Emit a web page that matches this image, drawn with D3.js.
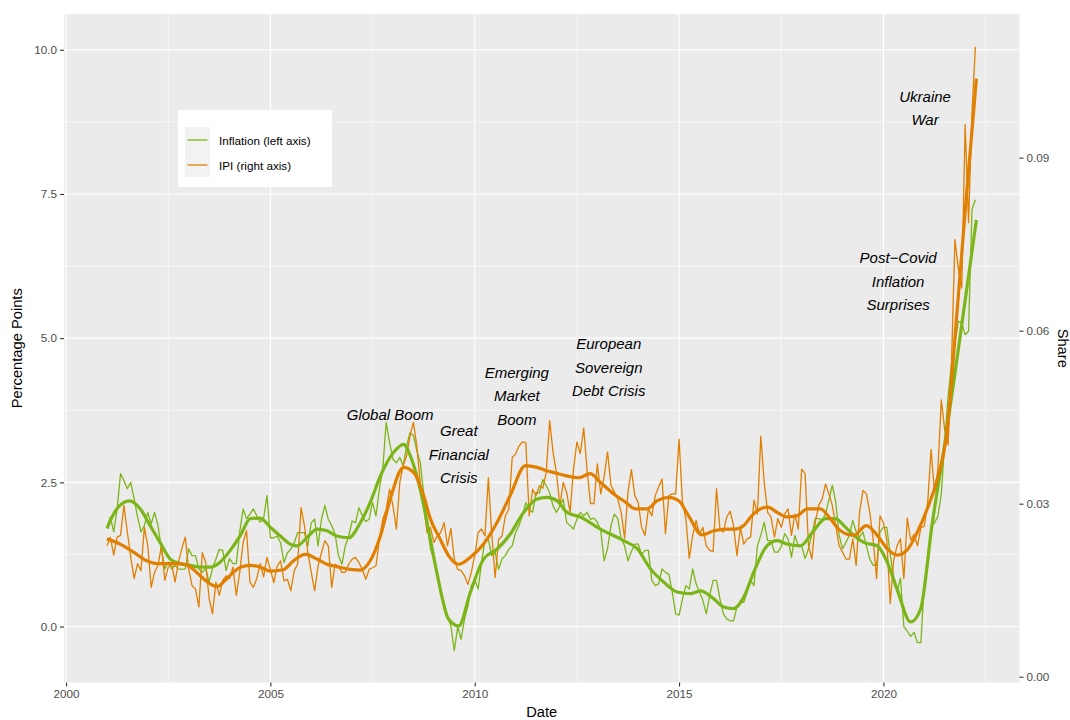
<!DOCTYPE html>
<html>
<head>
<meta charset="utf-8">
<script src="https://cdn.jsdelivr.net/npm/d3@7"></script>
<style>
    body { margin: 0; background: #ffffff; }
    #dashboardChart text { font-family: "Liberation Sans", Arial, Helvetica, sans-serif; }
</style>
</head>
<body>
<div id="dashboardChart"></div>
<script>
// monthly series, first observation January 2001
const startYear = 2001;

// inflation, percentage points (left axis)
const inflation = [
    1.72, 1.90, 1.64, 2.04, 2.65, 2.53, 2.39, 2.50, 2.21, 1.90,
    1.64, 1.75, 1.98, 1.78, 1.98, 1.75, 1.35, 1.00, 1.12, 1.00,
    1.06, 1.00, 0.99, 1.00, 1.35, 1.23, 1.23, 1.00, 0.94, 1.00,
    0.77, 1.00, 1.17, 1.34, 1.32, 0.97, 1.18, 1.09, 1.09, 1.64,
    2.04, 1.87, 1.95, 2.04, 1.92, 1.81, 1.87, 2.27, 1.54, 1.54,
    1.57, 1.45, 1.11, 1.28, 1.34, 1.45, 1.63, 1.63, 1.63, 1.40,
    1.80, 1.86, 1.40, 1.86, 2.10, 1.86, 1.75, 1.60, 1.23, 1.08,
    1.40, 1.57, 1.83, 1.80, 2.06, 1.92, 1.82, 1.86, 2.15, 1.92,
    2.38, 2.73, 3.54, 3.19, 2.90, 2.84, 2.93, 2.79, 3.13, 3.36,
    3.31, 3.05, 2.85, 2.31, 1.80, 1.35, 1.17, 0.94, 0.59, 0.42,
    0.18, 0.01, -0.42, 0.00, -0.22, 0.13, 0.36, 0.71, 0.82, 0.65,
    1.11, 1.51, 1.51, 1.23, 1.28, 0.99, 1.17, 1.23, 1.34, 1.40,
    1.63, 1.75, 1.92, 2.15, 2.03, 1.98, 2.32, 2.32, 2.55, 2.44,
    2.32, 2.09, 1.98, 2.09, 2.21, 1.80, 1.75, 1.69, 1.86, 1.98,
    1.92, 1.98, 1.86, 1.88, 1.81, 1.66, 1.14, 1.35, 1.75, 1.95,
    1.87, 1.52, 1.40, 1.14, 1.30, 1.43, 1.43, 1.25, 1.32, 1.32,
    0.80, 0.71, 0.74, 1.00, 0.94, 0.91, 0.60, 0.22, 0.20, 0.48,
    0.71, 0.65, 1.00, 0.74, 0.60, 0.45, 0.22, 0.54, 0.80, 0.80,
    0.48, 0.22, 0.13, 0.10, 0.10, 0.34, 0.42, 0.42, 0.60, 0.80,
    0.71, 1.40, 1.58, 1.81, 1.49, 1.49, 1.29, 1.29, 1.38, 1.61,
    1.52, 1.20, 1.58, 1.40, 1.40, 1.18, 1.35, 1.60, 1.88, 1.87,
    1.85, 1.95, 2.20, 2.45, 2.16, 1.58, 1.35, 1.46, 1.58, 1.84,
    1.64, 1.55, 1.64, 1.40, 1.17, 1.06, 1.06, 1.64, 1.72, 1.72,
    1.25, 0.85, 0.60, 0.84, 0.00, -0.08, -0.17, -0.10, -0.28, -0.28,
    0.76, 1.20, 1.74, 1.80, 1.91, 2.30, 3.20, 3.99, 4.57, 4.90,
    5.29, 5.27, 5.06, 5.12, 7.23, 7.40
];

// IPI, share (right axis)
const ipiShare = [
    0.0227, 0.0242, 0.0211, 0.0242, 0.0245, 0.0297, 0.0251, 0.0207, 0.0170, 0.0196,
    0.0184, 0.0259, 0.0227, 0.0155, 0.0181, 0.0193, 0.0227, 0.0167, 0.0190, 0.0196,
    0.0164, 0.0199, 0.0222, 0.0242, 0.0187, 0.0158, 0.0152, 0.0121, 0.0215, 0.0199,
    0.0136, 0.0109, 0.0164, 0.0141, 0.0167, 0.0175, 0.0170, 0.0190, 0.0141, 0.0181,
    0.0233, 0.0253, 0.0164, 0.0155, 0.0170, 0.0196, 0.0173, 0.0207, 0.0186, 0.0163,
    0.0192, 0.0201, 0.0166, 0.0169, 0.0149, 0.0184, 0.0195, 0.0293, 0.0262, 0.0215,
    0.0181, 0.0149, 0.0192, 0.0215, 0.0236, 0.0227, 0.0155, 0.0195, 0.0192, 0.0181,
    0.0181, 0.0195, 0.0204, 0.0207, 0.0198, 0.0186, 0.0169, 0.0186, 0.0189, 0.0192,
    0.0238, 0.0273, 0.0290, 0.0325, 0.0296, 0.0256, 0.0337, 0.0366, 0.0383, 0.0418,
    0.0441, 0.0400, 0.0337, 0.0296, 0.0250, 0.0259, 0.0233, 0.0244, 0.0250, 0.0267,
    0.0227, 0.0257, 0.0204, 0.0186, 0.0184, 0.0175, 0.0160, 0.0181, 0.0210, 0.0250,
    0.0256, 0.0244, 0.0345, 0.0247, 0.0172, 0.0238, 0.0244, 0.0279, 0.0290, 0.0380,
    0.0386, 0.0400, 0.0407, 0.0406, 0.0279, 0.0325, 0.0314, 0.0331, 0.0327, 0.0354,
    0.0444, 0.0389, 0.0354, 0.0296, 0.0337, 0.0319, 0.0285, 0.0360, 0.0407, 0.0387,
    0.0431, 0.0357, 0.0300, 0.0300, 0.0369, 0.0317, 0.0347, 0.0390, 0.0332, 0.0320,
    0.0308, 0.0285, 0.0240, 0.0320, 0.0359, 0.0314, 0.0302, 0.0259, 0.0245, 0.0291,
    0.0279, 0.0314, 0.0329, 0.0343, 0.0248, 0.0314, 0.0317, 0.0317, 0.0412, 0.0302,
    0.0274, 0.0205, 0.0245, 0.0271, 0.0247, 0.0259, 0.0227, 0.0219, 0.0217, 0.0326,
    0.0256, 0.0251, 0.0277, 0.0287, 0.0262, 0.0210, 0.0259, 0.0230, 0.0239, 0.0242,
    0.0306, 0.0282, 0.0417, 0.0337, 0.0285, 0.0277, 0.0242, 0.0274, 0.0259, 0.0282,
    0.0291, 0.0245, 0.0282, 0.0256, 0.0360, 0.0352, 0.0227, 0.0204, 0.0268, 0.0297,
    0.0308, 0.0334, 0.0317, 0.0297, 0.0262, 0.0227, 0.0216, 0.0204, 0.0204, 0.0239,
    0.0193, 0.0285, 0.0323, 0.0317, 0.0285, 0.0237, 0.0170, 0.0279, 0.0267, 0.0237,
    0.0127, 0.0202, 0.0227, 0.0239, 0.0170, 0.0275, 0.0237, 0.0247, 0.0227, 0.0258,
    0.0261, 0.0302, 0.0394, 0.0319, 0.0359, 0.0480, 0.0428, 0.0402, 0.0544, 0.0758,
    0.0707, 0.0674, 0.0957, 0.0787, 0.0977, 0.1092
];

// smoothed trends (months after Jan 2001, value)
const inflationTrendMonths = [
    0, 2.9, 6.6, 9.8, 12.7, 15.6, 18.6, 21.5, 24.5, 27.4,
    30.3, 33.3, 36.2, 39.2, 42.1, 45, 48, 50.9, 53.8, 55.8,
    58.7, 61.7, 64.6, 67.5, 71, 74.4, 77.3, 80.3, 84.2, 87.1,
    89.1, 92, 95, 97, 100.3, 103.3, 106.7, 110.6, 114.5, 118.4,
    122.4, 126.3, 129.2, 132.2, 135.1, 139, 144.9, 151.7, 155.7, 159.6,
    163.5, 167.4, 171.3, 174.3, 178.2, 181.1, 184, 187, 189.9, 193.8,
    196.8, 199.7, 203.6, 207.5, 211, 213.9, 216.4, 219.3, 222.2, 226.2,
    229.1, 232, 236, 238.9, 242.3, 246.2, 250.1, 255.3
];
const inflationTrend = [
    1.70, 2.04, 2.18, 2.04, 1.75, 1.46, 1.17, 1.09, 1.06, 1.03,
    1.03, 1.12, 1.32, 1.58, 1.87, 1.88, 1.72, 1.57, 1.43, 1.40,
    1.54, 1.69, 1.66, 1.57, 1.54, 1.80, 2.15, 2.61, 3.02, 3.16,
    2.96, 2.38, 1.50, 0.90, 0.13, 0.01, 0.59, 1.17, 1.34, 1.60,
    1.98, 2.21, 2.24, 2.18, 1.98, 1.90, 1.69, 1.49, 1.35, 1.00,
    0.77, 0.60, 0.57, 0.62, 0.48, 0.34, 0.31, 0.51, 0.94, 1.40,
    1.49, 1.43, 1.40, 1.66, 1.87, 1.87, 1.75, 1.58, 1.46, 1.40,
    1.12, 0.65, 0.08, 0.30, 1.77, 3.24, 4.85, 7.05
];

const ipiTrendMonths = [
    0, 3.9, 7.8, 11.7, 14.7, 18.6, 21.5, 24.5, 27.4, 30.3,
    32.3, 35.2, 39.2, 42.1, 45, 48, 51.9, 54.8, 58.2, 61.7,
    64.6, 67.5, 71.4, 74.4, 77.3, 80.3, 83.2, 87.1, 90.1, 93,
    94.9, 97.9, 100.3, 103.3, 106.7, 110.6, 114.5, 118.4, 122.9, 126.3,
    129.2, 133.1, 138.5, 141.9, 144.9, 148.8, 152.2, 155.2, 158.6, 161.5,
    165, 167.9, 170.8, 174.7, 178.2, 182.1, 184.5, 187, 189, 191.9,
    194, 196.8, 199.7, 202.7, 205.6, 209.5, 212.4, 215.4, 219.3, 223,
    226.2, 229.1, 232, 235, 237.9, 240.8, 243.8, 246.7, 249, 252,
    255.3
];
const ipiTrend = [
    0.0239, 0.0230, 0.0216, 0.0201, 0.0196, 0.0196, 0.0196, 0.0190, 0.0175, 0.0161,
    0.0156, 0.0170, 0.0190, 0.0193, 0.0190, 0.0183, 0.0186, 0.0201, 0.0212, 0.0204,
    0.0195, 0.0191, 0.0186, 0.0185, 0.0201, 0.0244, 0.0308, 0.0363, 0.0354, 0.0314,
    0.0275, 0.0238, 0.0210, 0.0195, 0.0207, 0.0230, 0.0267, 0.0314, 0.0366, 0.0363,
    0.0357, 0.0351, 0.0345, 0.0352, 0.0337, 0.0317, 0.0303, 0.0291, 0.0291, 0.0305,
    0.0311, 0.0305, 0.0279, 0.0246, 0.0253, 0.0256, 0.0256, 0.0262, 0.0277, 0.0291,
    0.0294, 0.0285, 0.0277, 0.0279, 0.0291, 0.0291, 0.0274, 0.0253, 0.0245, 0.0262,
    0.0245, 0.0222, 0.0211, 0.0220, 0.0250, 0.0290, 0.0342, 0.0427, 0.0587, 0.0807,
    0.1037
];

const yearTicks = [2000, 2005, 2010, 2015, 2020];
const leftTicks = [0, 2.5, 5, 7.5, 10];
const rightTicks = [0, 0.03, 0.06, 0.09];

const seriesNames = ['Inflation (left axis)', 'IPI (right axis)'];

// event labels: [lines, year, value]
const events = [
    [['Global Boom'], 2007.93, 3.67],
    [['Great', 'Financial', 'Crisis'], 2009.61, 2.98],
    [['Emerging', 'Market', 'Boom'], 2011.03, 3.99],
    [['European', 'Sovereign', 'Debt Crisis'], 2013.28, 4.49],
    [['Post\u2212Covid', 'Inflation', 'Surprises'], 2020.36, 5.98],
    [['Ukraine', 'War'], 2021.02, 8.98]
];

class DualAxisChart {
    constructor() {
        this.width = 1070;
        this.height = 720;
        this.panel = { left: 64, right: 1019.5, top: 14, bottom: 682.5 };
        this.green = '#7cb518';
        this.orange = '#e07f00';
        this.tickColour = '#4d4d4d';

        this.setUpCanvas();
        this.plotPanel();
        this.plotData();
        this.plotAxis();
        this.plotLabels();
        this.plotLegend();
    };

    monthToYear = m => startYear + m / 12;

    setUpCanvas = () => {
        this.svg = d3.select('#dashboardChart')
                    .append('svg')
                    .attr('width', this.width)
                    .attr('height', this.height);

        this.xScale = d3.scaleLinear()
                        .domain([1999.95, 2023.33])
                        .range([this.panel.left, this.panel.right]);

        this.yScale = d3.scaleLinear()
                        .domain([-0.97, 10.62])
                        .range([this.panel.bottom, this.panel.top]);

        // secondary axis: share = (value + 0.87) / 100
        this.y2Scale = d3.scaleLinear()
                        .domain([0, 0.09])
                        .range([this.yScale(-0.87), this.yScale(8.13)]);
    };

    plotPanel = () => {
        const p = this.panel;
        this.svg.append('rect')
                .attr('x', p.left)
                .attr('y', p.top)
                .attr('width', p.right - p.left)
                .attr('height', p.bottom - p.top)
                .attr('fill', '#ebebeb');

        const [x0, x1] = this.xScale.domain();
        const [y0, y1] = this.yScale.domain();
        const minorX = d3.range(1997.5, 2030, 5).filter(d => d > x0 && d < x1);
        const minorY = d3.range(-1.25, 12, 2.5).filter(d => d > y0 && d < y1);

        const grid = this.svg.append('g').attr('stroke', '#ffffff');
        grid.selectAll('.minor-y').data(minorY).enter().append('line')
            .attr('x1', p.left).attr('x2', p.right)
            .attr('y1', d => this.yScale(d)).attr('y2', d => this.yScale(d))
            .attr('stroke-width', 0.55);
        grid.selectAll('.minor-x').data(minorX).enter().append('line')
            .attr('y1', p.top).attr('y2', p.bottom)
            .attr('x1', d => this.xScale(d)).attr('x2', d => this.xScale(d))
            .attr('stroke-width', 0.55);
        grid.selectAll('.major-y').data(leftTicks).enter().append('line')
            .attr('x1', p.left).attr('x2', p.right)
            .attr('y1', d => this.yScale(d)).attr('y2', d => this.yScale(d))
            .attr('stroke-width', 1.1);
        grid.selectAll('.major-x').data(yearTicks).enter().append('line')
            .attr('y1', p.top).attr('y2', p.bottom)
            .attr('x1', d => this.xScale(d)).attr('x2', d => this.xScale(d))
            .attr('stroke-width', 1.1);
    };

    plotData = () => {
        const rawLine = (scale) => d3.line()
            .x((d, i) => this.xScale(this.monthToYear(i)))
            .y(d => scale(d));

        const trendLine = (months, scale) => d3.line()
            .curve(d3.curveMonotoneX)
            .x((d, i) => this.xScale(this.monthToYear(months[i])))
            .y(d => scale(d));

        this.svg.append('path')
                .attr('d', rawLine(this.yScale)(inflation))
                .attr('fill', 'none')
                .attr('stroke', this.green)
                .attr('stroke-width', 1.3)
                .attr('stroke-linejoin', 'round');

        this.svg.append('path')
                .attr('d', rawLine(this.y2Scale)(ipiShare))
                .attr('fill', 'none')
                .attr('stroke', this.orange)
                .attr('stroke-width', 1.3)
                .attr('stroke-linejoin', 'round');

        this.svg.append('path')
                .attr('d', trendLine(inflationTrendMonths, this.yScale)(inflationTrend))
                .attr('fill', 'none')
                .attr('stroke', this.green)
                .attr('stroke-width', 3.2)
                .attr('stroke-linejoin', 'round');

        this.svg.append('path')
                .attr('d', trendLine(ipiTrendMonths, this.y2Scale)(ipiTrend))
                .attr('fill', 'none')
                .attr('stroke', this.orange)
                .attr('stroke-width', 3.2)
                .attr('stroke-linejoin', 'round');
    };

    styleAxis = (g) => {
        g.select('.domain').remove();
        g.selectAll('.tick line').attr('stroke', '#333333').attr('stroke-width', 1.1);
        g.selectAll('.tick text')
         .attr('fill', this.tickColour)
         .style('font-size', '11.7px');
    };

    plotAxis = () => {
        const p = this.panel;
        const xAxis = d3.axisBottom(this.xScale)
                        .tickValues(yearTicks)
                        .tickFormat(d3.format('d'))
                        .tickSize(4).tickPadding(3);
        const yAxis = d3.axisLeft(this.yScale)
                        .tickValues(leftTicks)
                        .tickFormat(d3.format('.1f'))
                        .tickSize(4).tickPadding(3);
        const y2Axis = d3.axisRight(this.y2Scale)
                        .tickValues(rightTicks)
                        .tickFormat(d3.format('.2f'))
                        .tickSize(4).tickPadding(3);

        this.svg.append('g')
                .attr('transform', 'translate(0,' + p.bottom + ')')
                .call(xAxis).call(this.styleAxis);
        this.svg.append('g')
                .attr('transform', 'translate(' + p.left + ',0)')
                .call(yAxis).call(this.styleAxis);
        this.svg.append('g')
                .attr('transform', 'translate(' + p.right + ',0)')
                .call(y2Axis).call(this.styleAxis);

        const midY = (p.top + p.bottom) / 2;
        this.svg.append('text')
                .attr('x', (p.left + p.right) / 2)
                .attr('y', 717)
                .attr('text-anchor', 'middle')
                .style('font-size', '14.7px')
                .text('Date');
        this.svg.append('text')
                .attr('transform', 'translate(22,' + midY + ') rotate(-90)')
                .attr('text-anchor', 'middle')
                .style('font-size', '14.7px')
                .text('Percentage Points');
        this.svg.append('text')
                .attr('transform', 'translate(1058,' + midY + ') rotate(90)')
                .attr('text-anchor', 'middle')
                .style('font-size', '14.7px')
                .text('Share');
    };

    plotLabels = () => {
        const lineGap = 23.5;
        const labels = this.svg.selectAll('.event')
                .data(events)
                .enter()
                .append('text')
                .attr('class', 'event')
                .attr('text-anchor', 'middle')
                .style('font-size', '15px')
                .style('font-style', 'italic')
                .attr('fill', '#000000');

        labels.each(function (d) {
            const [lines] = d;
            const sel = d3.select(this);
            lines.forEach((t, i) => {
                sel.append('tspan')
                   .attr('x', 0)
                   .attr('y', (i - (lines.length - 1) / 2) * lineGap + 5)
                   .text(t);
            });
        });
        labels.attr('transform', d => 'translate(' + this.xScale(d[1]) + ',' + this.yScale(d[2]) + ')');
    };

    plotLegend = () => {
        const g = this.svg.append('g').attr('transform', 'translate(178,110)');
        g.append('rect')
         .attr('width', 154).attr('height', 77)
         .attr('fill', '#ffffff');

        const colours = [this.green, this.orange];
        const items = g.selectAll('.key')
                       .data(seriesNames)
                       .enter()
                       .append('g')
                       .attr('transform', (d, i) => 'translate(7,' + (17 + i * 25) + ')');

        items.append('rect')
             .attr('width', 25).attr('height', 25)
             .attr('fill', '#f2f2f2');
        items.append('line')
             .attr('x1', 2.5).attr('x2', 22.5)
             .attr('y1', 13).attr('y2', 13)
             .attr('stroke', (d, i) => colours[i])
             .attr('stroke-width', 1.3);
        items.append('text')
             .attr('x', 34).attr('y', 17.5)
             .style('font-size', '11.7px')
             .attr('fill', '#000000')
             .text(d => d);
    };
};

new DualAxisChart();
</script>
</body>
</html>
